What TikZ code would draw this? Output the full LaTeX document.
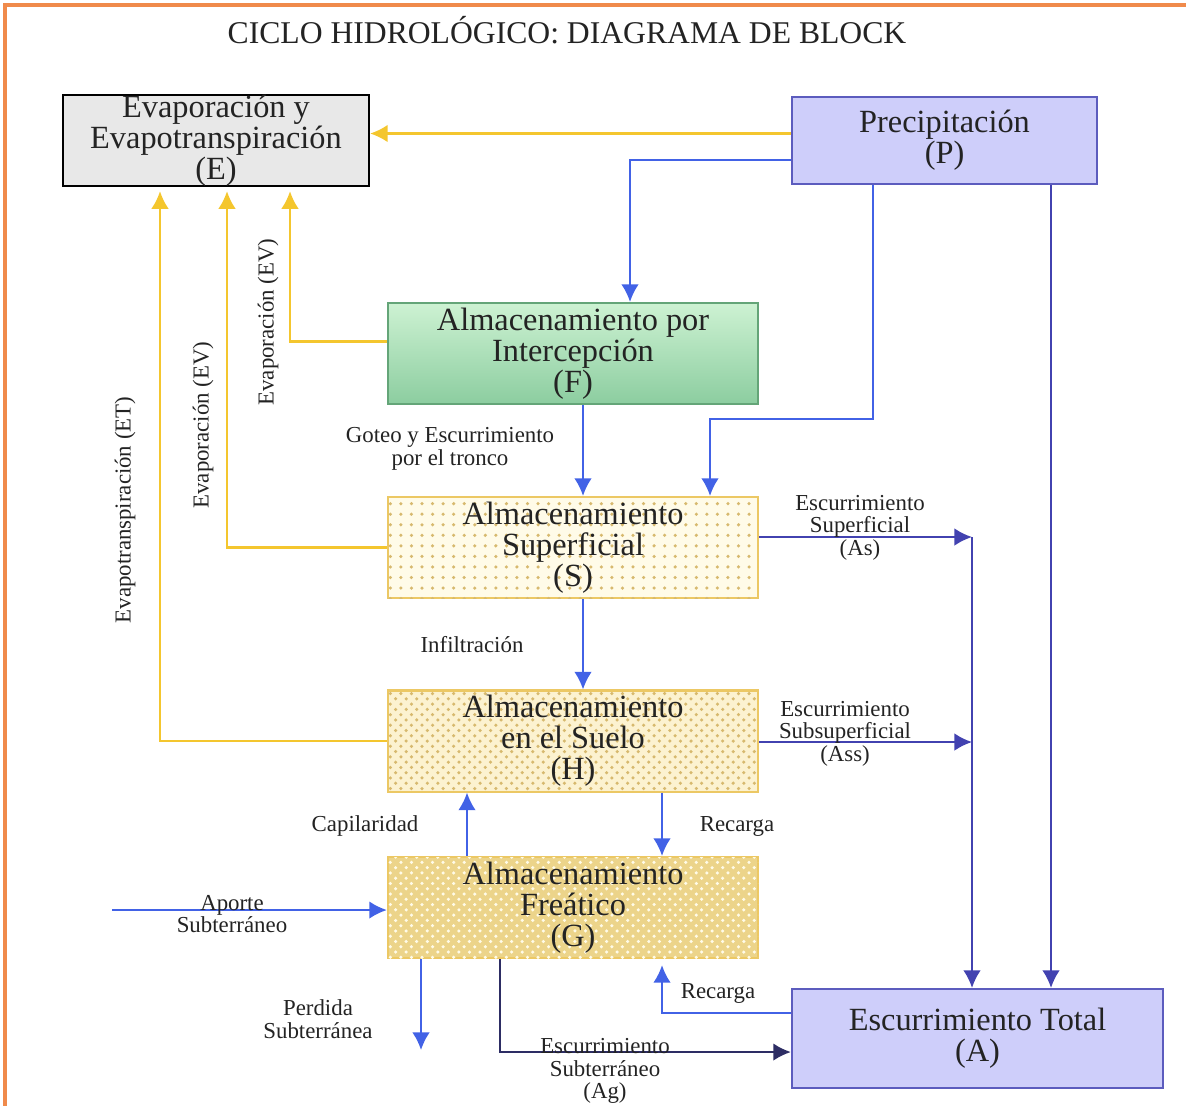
\documentclass[tikz,border=0pt]{standalone}
\usepackage{fontspec}
\setmainfont{Liberation Serif}
\usetikzlibrary{arrows.meta,patterns}
\usetikzlibrary{fit,backgrounds,positioning,calc}

\definecolor{frameOrange}{RGB}{240,138,75}
\definecolor{textDark}{RGB}{35,35,35}
\definecolor{yellowFlow}{RGB}{244,198,46}
\definecolor{blueFlow}{RGB}{66,98,230}
\definecolor{navyFlow}{RGB}{66,66,176}
\definecolor{darkFlow}{RGB}{45,45,100}
\definecolor{lavFill}{RGB}{206,206,250}
\definecolor{lavBorder}{RGB}{92,92,190}
\definecolor{greyFill}{RGB}{232,232,232}
\definecolor{greenTop}{RGB}{205,242,210}
\definecolor{greenBottom}{RGB}{140,205,160}
\definecolor{greenBorder}{RGB}{100,165,120}
\definecolor{sandBorder}{RGB}{236,200,100}
\definecolor{creamFill}{RGB}{255,251,232}
\definecolor{soilFill}{RGB}{252,242,208}
\definecolor{tanFill}{RGB}{236,212,138}
\definecolor{dotColor}{RGB}{215,185,110}

\begin{document}
\begin{tikzpicture}[x=0.01cm, y=-0.01cm, align=center, >={Latex[length=5pt,width=5pt]},
  font=\fontsize{9.2}{8.8}\selectfont]

%local definitions
\tikzstyle{Block} = [draw, rectangle, inner sep=0pt, line width=0.6pt, text=textDark]
\tikzstyle{Output} = [Block, draw=black, fill=greyFill, minimum width=3.06cm, minimum height=0.87cm]
\tikzstyle{Source} = [Block, draw=lavBorder, fill=lavFill]
\tikzstyle{Storage} = [Block, draw=sandBorder, minimum width=3.7cm, minimum height=1.01cm]
\tikzstyle{FlowLabel} = [font=\fontsize{6.5}{6.4}\selectfont, text=textDark, inner sep=0pt]
\tikzstyle{Evap} = [yellowFlow, line width=0.6pt]
\tikzstyle{Water} = [blueFlow, line width=0.6pt]
\tikzstyle{Runoff} = [navyFlow, line width=0.6pt]

\useasboundingbox (0,0) rectangle (1186,1105);
\draw [frameOrange, line width=1.4pt] (1190,5) -- (5,5) -- (5,1110);

%board components
	\node [text=textDark, font=\fontsize{9}{9}\selectfont] (Titulo) at (567,30) {CICLO HIDROLÓGICO: DIAGRAMA DE BLOCK};

	\node [Output] (Evaporacion) at (216,140.5) {Evaporación y\\Evapotranspiración\\(E)};
	\node [Source, minimum width=3.05cm, minimum height=0.87cm] (Precipitacion) at (944.5,140.5) {Precipitación\\(P)};
	\node [Storage, draw=greenBorder, top color=greenTop, bottom color=greenBottom] (Intercepcion) at (573,353.5) {Almacenamiento por\\Intercepción\\(F)};
	\node [Storage, fill=creamFill, postaction={pattern=dots, pattern color=dotColor}] (AlmSuperficial) at (573,547.5) {Almacenamiento\\Superficial\\(S)};
	\node [Storage, fill=soilFill, postaction={pattern=crosshatch dots, pattern color=dotColor}] (AlmSuelo) at (573,741) {Almacenamiento\\en el Suelo\\(H)};
	\node [Storage, fill=tanFill, postaction={pattern=crosshatch dots, pattern color=creamFill}] (AlmFreatico) at (573,907.5) {Almacenamiento\\Freático\\(G)};
	\node [Source, minimum width=3.71cm, minimum height=0.99cm] (EscTotal) at (977.5,1038.5) {Escurrimiento Total\\(A)};

	\coordinate (Colector) at (972,537);
	\coordinate (AsStart) at ($(AlmSuperficial.east)+(0,-10.5)$);
	\coordinate (AssStart) at ($(AlmSuelo.east)+(0,1)$);
	\coordinate (AporteStart) at (112,910);
	\coordinate (PerdidaEnd) at (421,1050);

%connections

	%evaporation
	\draw [Evap,->] ($(Precipitacion.west)+(0,-7)$) -- ($(Evaporacion.east)+(0,-7)$);
	\draw [Evap,->] ($(Intercepcion.west)+(0,-12)$) -| ($(Evaporacion.south)+(74,4)$);
	\draw [Evap,->] (AlmSuperficial.west) -| ($(Evaporacion.south)+(11,4)$);
	\draw [Evap,->] (AlmSuelo.west) -| ($(Evaporacion.south)+(-56,4)$);

	%rain and infiltration
	\draw [Water,->] ($(Precipitacion.west)+(0,19.5)$) -| ($(Intercepcion.north)+(57,0)$);
	\draw [Water,->] ($(Precipitacion.south)+(-71.5,0)$) -- ++(0,234) -| ($(AlmSuperficial.north)+(137,0)$);
	\draw [Water,->] ($(Intercepcion.south)+(10,0)$) -- ($(AlmSuperficial.north)+(10,0)$);
	\draw [Water,->] ($(AlmSuperficial.south)+(10,0)$) -- ($(AlmSuelo.north)+(10,0)$);
	\draw [Water,->] ($(AlmFreatico.north)+(-106,0)$) -- ($(AlmSuelo.south)+(-106,0)$);
	\draw [Water,->] ($(AlmSuelo.south)+(89,0)$) -- ($(AlmFreatico.north)+(89,0)$);
	\draw [Water,->] (AporteStart) -- ($(AlmFreatico.west)+(0,2.5)$);
	\draw [Water,->] ($(AlmFreatico.south)+(-152,0)$) -- (PerdidaEnd);
	\draw [Water,->] ($(EscTotal.west)+(0,-25.5)$) -| ($(AlmFreatico.south)+(89,6)$);

	%runoff
	\draw [Runoff,->] (AsStart) -- (AsStart -| Colector);
	\draw [Runoff,->] (AssStart) -- (AssStart -| Colector);
	\draw [Runoff,->] (Colector) -- (Colector |- EscTotal.north);
	\draw [Runoff,->] ($(Precipitacion.south)+(106.5,0)$) -- ($(EscTotal.north)+(73.5,0)$);
	\draw [Runoff, darkFlow, ->] ($(AlmFreatico.south)+(-73,0)$) |- ($(EscTotal.west)+(0,13.5)$);

	%flow names
	\node [FlowLabel, rotate=90] (LblEvF) at (268,322) {Evaporación (EV)};
	\node [FlowLabel, rotate=90] (LblEvS) at (203,425) {Evaporación (EV)};
	\node [FlowLabel, rotate=90] (LblEt) at (125,510) {Evapotranspiración (ET)};
	\node [FlowLabel] (LblGoteo) at (450,449) {Goteo y Escurrimiento\\por el tronco};
	\node [FlowLabel] (LblInfil) at (472,645) {Infiltración};
	\node [FlowLabel] (LblAs) at (860,527.5) {Escurrimiento\\Superficial\\(As)};
	\node [FlowLabel] (LblAss) at (845,733.5) {Escurrimiento\\Subsuperficial\\(Ass)};
	\node [FlowLabel] (LblCapil) at (365,826) {Capilaridad};
	\node [FlowLabel] (LblRecarga) at (737,826) {Recarga};
	\node [FlowLabel] (LblAporte) at (232,914) {Aporte\\Subterráneo};
	\node [FlowLabel] (LblPerdida) at (318,1019) {Perdida\\Subterránea};
	\node [FlowLabel] (LblAg) at (605,1071) {Escurrimiento\\Subterráneo\\(Ag)};
	\node [FlowLabel] (LblRecargaA) at (718,993) {Recarga};

\end{tikzpicture}
\end{document}
